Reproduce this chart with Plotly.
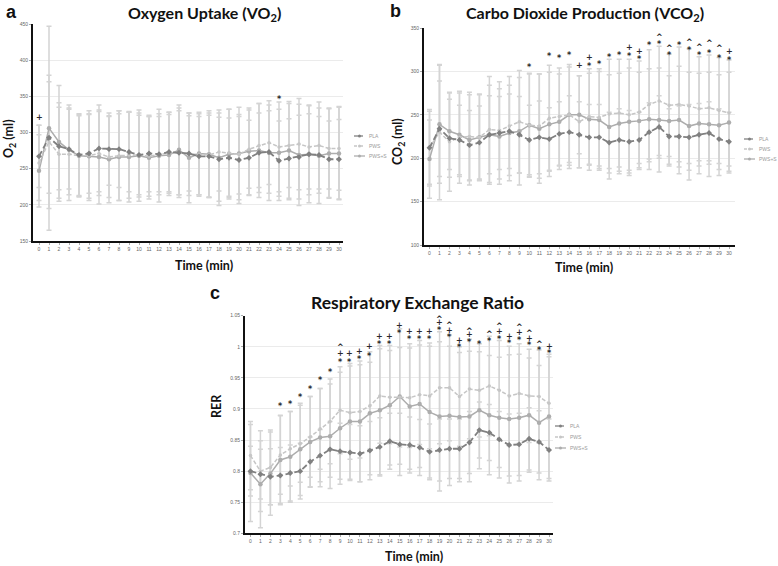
import plotly.graph_objects as go

W, H = 778, 566

# ---------------- data ----------------
minutes = list(range(31))
series_names = ["PLA", "PWS", "PWS+S"]

# Panel a: Oxygen uptake (ml)
a_pla = [267,293,281,277,269,271,278,277,277,273,269,271,270,273,272,271,267,267,263,265,262,265,272,273,261,264,266,270,269,263,263]
a_pws = [258,287,270,270,268,268,271,266,268,269,269,267,270,272,272,270,270,269,273,272,270,277,282,286,280,282,284,280,282,278,278]
a_pwss = [247,306,287,276,268,267,266,263,266,266,268,265,268,269,276,265,271,270,265,270,271,274,275,272,272,275,269,270,268,271,271]
a_pla_sd = [43,77,60,55,57,55,60,50,53,55,55,53,52,55,58,52,55,57,58,55,60,52,55,57,55,55,58,56,53,53,55]
a_pws_sd = [52,92,65,64,55,62,58,56,62,60,58,55,56,56,62,57,56,58,54,60,55,54,58,58,62,58,63,58,60,56,58]
a_pwss_sd = [50,141,78,62,57,58,65,60,60,62,63,57,64,56,62,62,57,60,66,62,64,60,65,66,60,68,70,67,66,62,64]
a_star_t, a_star_y = [24], [348]
a_plus_t, a_plus_y = [0], [321]
a_caret_t, a_caret_y = [], []

# Panel b: CO2 production (ml)
b_pla = [212,234,223,221,215,218,227,229,231,227,221,224,222,228,230,227,224,224,218,221,219,221,230,236,225,225,224,227,229,222,219]
b_pws = [212,230,219,224,225,224,233,232,237,242,238,237,246,248,250,242,248,247,251,252,250,253,262,266,261,262,260,257,258,255,252]
b_pwss = [199,239,231,227,221,224,227,225,229,231,238,234,239,242,250,250,245,244,236,240,242,243,245,244,243,244,237,240,239,238,241]
b_pla_sd = [42,55,45,40,40,42,45,42,43,44,40,42,36,37,42,38,38,38,35,36,36,32,34,36,32,35,38,36,36,35,34]
b_pws_sd = [44,78,57,53,51,49,61,56,57,59,59,60,61,56,58,53,55,56,63,62,64,59,63,63,59,66,66,60,61,61,61]
b_pwss_sd = [45,68,44,48,52,50,57,55,55,62,60,63,60,55,55,45,53,56,60,58,62,56,58,60,52,62,62,58,60,58,58]
b_star_t = [10,12,13,14,16,17,18,19,20,21,22,23,24,25,26,27,28,29,30]
b_star_y = [306.6,319.7,317.7,321.2,308.5,310,318,320.8,320,316,331.6,333,320.8,332,326,320.8,323.5,317.7,315]
b_plus_t = [15,16,20,21,30]
b_plus_y = [307,315.8,327,322.7,323]
b_caret_t = [23,24,26,27,28,29]
b_caret_y = [340,327.3,334,329,333,327]

# Panel c: Respiratory exchange ratio
c_pla = [0.800,0.795,0.791,0.793,0.797,0.800,0.815,0.825,0.835,0.832,0.830,0.828,0.833,0.839,0.848,0.843,0.842,0.838,0.831,0.834,0.836,0.836,0.846,0.866,0.862,0.851,0.842,0.843,0.852,0.847,0.834]
c_pws = [0.825,0.800,0.806,0.826,0.836,0.844,0.855,0.868,0.880,0.898,0.894,0.896,0.905,0.921,0.919,0.919,0.918,0.923,0.921,0.934,0.934,0.920,0.932,0.930,0.937,0.930,0.921,0.925,0.921,0.920,0.909]
c_pwss = [0.797,0.779,0.796,0.818,0.823,0.835,0.847,0.854,0.856,0.869,0.880,0.880,0.893,0.898,0.906,0.920,0.904,0.908,0.895,0.888,0.889,0.887,0.888,0.898,0.890,0.886,0.884,0.886,0.890,0.878,0.888]
c_pla_sd = [0.040,0.040,0.045,0.045,0.045,0.045,0.040,0.042,0.045,0.045,0.045,0.045,0.047,0.047,0.045,0.050,0.045,0.045,0.045,0.050,0.048,0.048,0.050,0.045,0.045,0.045,0.050,0.050,0.050,0.050,0.050]
c_pws_sd = [0.055,0.065,0.060,0.063,0.060,0.062,0.065,0.065,0.068,0.070,0.075,0.075,0.070,0.076,0.075,0.080,0.080,0.080,0.085,0.090,0.085,0.080,0.080,0.075,0.080,0.080,0.080,0.080,0.075,0.075,0.075]
c_pwss_sd = [0.078,0.070,0.067,0.072,0.073,0.074,0.073,0.079,0.084,0.090,0.093,0.097,0.099,0.104,0.096,0.109,0.101,0.102,0.106,0.120,0.112,0.104,0.105,0.094,0.096,0.097,0.103,0.102,0.092,0.092,0.100]
c_star_t = [3,4,5,6,7,8,9,10,11,12,13,14,15,16,17,18,19,20,21,22,23,24,25,26,27,28,29,30]
c_star_y = [0.907,0.911,0.921,0.934,0.949,0.962,0.978,0.978,0.982,0.988,1.007,1.007,1.024,1.015,1.015,1.015,1.030,1.018,1.002,1.010,1.007,1.012,1.015,1.008,1.014,1.005,0.997,0.993]
c_plus_t = [9,10,11,12,13,14,15,16,17,18,19,20,21,22,25,26,27,28,30]
c_plus_y = [0.989,0.989,0.993,1.000,1.017,1.017,1.035,1.024,1.025,1.024,1.039,1.027,1.010,1.019,1.024,1.017,1.023,1.014,1.000]
c_caret_t = [9,19,20,22,24,25,27,28,29]
c_caret_y = [1.000,1.046,1.036,1.027,1.022,1.034,1.032,1.023,1.005]

# ---------------- styles ----------------
COL = {"PLA": "#808080", "PWS": "#c6c6c6", "PWS+S": "#adadad"}
DASH = {"PLA": "6px,3px", "PWS": "4px,2px", "PWS+S": "solid"}
LW = {"PLA": 1.8, "PWS": 1.5, "PWS+S": 1.5}
SYM = {"PLA": "diamond", "PWS": "circle", "PWS+S": "circle"}
MSIZE = {"PLA": 4.5, "PWS": 3.5, "PWS+S": 4.5}
ERRCOL = "#d4d4d4"

def px(x):
    return x / W

def py(y):
    return 1 - y / H

fig = go.Figure()

panels = [
    ("x", "y", [a_pla, a_pws, a_pwss], [a_pla_sd, a_pws_sd, a_pwss_sd],
     (a_star_t, a_star_y), (a_plus_t, a_plus_y), (a_caret_t, a_caret_y)),
    ("x2", "y2", [b_pla, b_pws, b_pwss], [b_pla_sd, b_pws_sd, b_pwss_sd],
     (b_star_t, b_star_y), (b_plus_t, b_plus_y), (b_caret_t, b_caret_y)),
    ("x3", "y3", [c_pla, c_pws, c_pwss], [c_pla_sd, c_pws_sd, c_pwss_sd],
     (c_star_t, c_star_y), (c_plus_t, c_plus_y), (c_caret_t, c_caret_y)),
]

annotations = []
for xa, ya, means, sds, stars, pluses, carets in panels:
    # error bars first (beneath all lines)
    for name, m, s in zip(series_names, means, sds):
        fig.add_trace(go.Scatter(
            x=minutes, y=m, xaxis=xa, yaxis=ya, mode="markers",
            marker=dict(size=1, color="rgba(0,0,0,0)"),
            error_y=dict(type="data", array=s, visible=True, color=ERRCOL,
                         thickness=1.5, width=2.5),
            showlegend=False, hoverinfo="skip"))
    # lines on top
    for idx in [2, 1, 0]:
        name = series_names[idx]
        fig.add_trace(go.Scatter(
            x=minutes, y=means[idx], xaxis=xa, yaxis=ya, mode="lines+markers",
            name=name,
            line=dict(color=COL[name], width=LW[name], dash=DASH[name]),
            marker=dict(symbol=SYM[name], size=MSIZE[name], color=COL[name]),
            showlegend=False))
    # significance symbols
    for (tt, yy), sym, shift in [(stars, "*", -2), (pluses, "+", 0), (carets, "^", -1)]:
        for t, v in zip(tt, yy):
            annotations.append(dict(
                x=t, y=v, xref=xa, yref=ya, text="<b>" + sym + "</b>", showarrow=False,
                yshift=shift, xanchor="center", yanchor="middle",
                font=dict(family="DejaVu Sans", size=8, color="#2a2a2a")))

# ---------------- axes ----------------
tickfont = dict(family="Liberation Sans", size=5, color="#666666")
def xaxis(domain, rng, anchor):
    return dict(domain=domain, range=rng, anchor=anchor, tickmode="linear",
                tick0=0, dtick=1, showgrid=False, zeroline=False,
                showline=True, linecolor="#111111", linewidth=1.5,
                ticks="outside", ticklen=2, tickcolor="#aaaaaa", tickwidth=1,
                tickfont=tickfont, fixedrange=True)

def yaxis(domain, rng, dtick, anchor):
    return dict(domain=domain, range=rng, anchor=anchor, tickmode="linear",
                tick0=rng[0], dtick=dtick, showgrid=True, gridcolor="#ebebeb",
                gridwidth=1, zeroline=False, showline=True,
                linecolor="#111111", linewidth=2,
                ticks="outside", ticklen=2, tickcolor="#aaaaaa",
                tickfont=tickfont, fixedrange=True)

layout = dict(
    width=W, height=H, margin=dict(l=0, r=0, t=0, b=0, autoexpand=False),
    paper_bgcolor="white", plot_bgcolor="white", showlegend=False,
    xaxis=xaxis([px(33), px(343)], [-0.6, 30.4], "y"),
    yaxis=yaxis([py(241), py(24)], [150, 450], 50, "x"),
    xaxis2=xaxis([px(424), px(735)], [-0.55, 30.6], "y2"),
    yaxis2=yaxis([py(245), py(28)], [100, 350], 50, "x2"),
    xaxis3=xaxis([px(245), px(553)], [-0.55, 30.4], "y3"),
    yaxis3=yaxis([py(533.3), py(315.7)], [0.7, 1.05], 0.05, "x3"),
)

# ---------------- titles and labels ----------------
title_font = dict(family="Lato", size=16, color="#111111")
title_font_c = dict(family="Lato", size=17.5, color="#111111")
label_font = dict(family="Lato", size=12.5, color="#111111")
letter_font = dict(family="Liberation Sans", size=18, color="#111111")

def txt(x, y, text, font, angle=0, xanchor="center"):
    annotations.append(dict(x=px(x), y=py(y), xref="paper", yref="paper",
                            text=text, showarrow=False, font=font,
                            textangle=angle, xanchor=xanchor, yanchor="middle"))

txt(11, 12, "<b>a</b>", letter_font)
txt(395, 11, "<b>b</b>", letter_font)
txt(215, 293, "<b>c</b>", letter_font)

txt(204, 13, "<b>Oxygen Uptake (VO<sub>2</sub>)</b>", title_font)
txt(585, 14, "<b>Carbo Dioxide Production (VCO<sub>2</sub>)</b>", title_font)
txt(417, 302, "<b>Respiratory Exchange Ratio</b>", title_font_c)

txt(204, 265, "<b>Time (min)</b>", label_font)
txt(584, 267, "<b>Time (min)</b>", label_font)
txt(414, 556, "<b>Time (min)</b>", label_font)

txt(10, 139, "<b>O<sub>2</sub> (ml)</b>", label_font, angle=-90)
txt(398, 141, "<b>CO<sub>2</sub> (ml)</b>", label_font, angle=-90)
txt(216, 406, "<b>RER</b>", label_font, angle=-90)

# ---------------- legends (small keys beside each panel) ----------------
shapes = []
legend_pos = [(354, [136, 146, 156]), (744, [139, 149, 159]), (555, [426, 437, 448])]
leg_font = dict(family="Liberation Sans", size=5, color="#9a9a9a")
for x0, rows in legend_pos:
    for name, yrow in zip(series_names, rows):
        dash = {"PLA": "dash", "PWS": "dot", "PWS+S": "solid"}[name]
        shapes.append(dict(type="line", xref="paper", yref="paper",
                           x0=px(x0), x1=px(x0 + 11), y0=py(yrow), y1=py(yrow),
                           line=dict(color=COL[name], width=1.3, dash=dash)))
        shapes.append(dict(type="circle", xref="paper", yref="paper",
                           x0=px(x0 + 4), x1=px(x0 + 7),
                           y0=py(yrow + 1.5), y1=py(yrow - 1.5),
                           fillcolor=COL[name], line=dict(width=0)))
        annotations.append(dict(x=px(x0 + 13), y=py(yrow), xref="paper", yref="paper",
                                text=name, showarrow=False, font=leg_font,
                                xanchor="left", yanchor="middle"))

layout["annotations"] = annotations
layout["shapes"] = shapes
fig.update_layout(**layout)

# remove the browser's default 8px page margin so the figure fills the window
fig.write_html("out.html",
               config={"displayModeBar": False},
               post_script="document.body.style.margin='0px';document.body.style.overflow='hidden';")
